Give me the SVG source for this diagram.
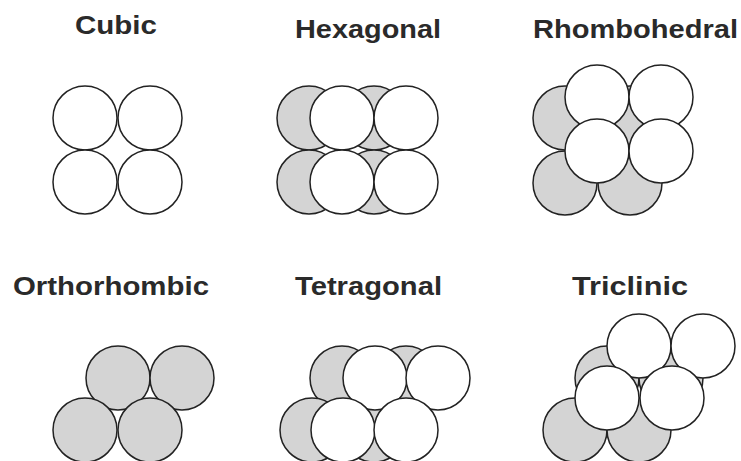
<svg xmlns="http://www.w3.org/2000/svg" width="741" height="461" viewBox="0 0 741 461">
<style>
.t{font-family:"Liberation Sans",Arial,sans-serif;font-weight:bold;font-size:26px;fill:#2a2a2a}
.w{fill:#ffffff;stroke:#222222;stroke-width:1.5}
.g{fill:#d4d4d4;stroke:#222222;stroke-width:1.5}
</style>
<rect width="741" height="461" fill="#ffffff"/>
<g id="cubic">
<text class="t" x="75" y="34" textLength="82" lengthAdjust="spacingAndGlyphs">Cubic</text>
<circle class="w" cx="85" cy="118" r="32"/>
<circle class="w" cx="150" cy="118" r="32"/>
<circle class="w" cx="85" cy="182" r="32"/>
<circle class="w" cx="150" cy="182" r="32"/>
</g>
<g id="hexagonal">
<text class="t" x="295" y="38" textLength="146" lengthAdjust="spacingAndGlyphs">Hexagonal</text>
<circle class="g" cx="309" cy="118" r="32"/>
<circle class="g" cx="374" cy="118" r="32"/>
<circle class="g" cx="309" cy="182" r="32"/>
<circle class="g" cx="374" cy="182" r="32"/>
<circle class="w" cx="342" cy="118" r="32"/>
<circle class="w" cx="406" cy="118" r="32"/>
<circle class="w" cx="342" cy="182" r="32"/>
<circle class="w" cx="406" cy="182" r="32"/>
</g>
<g id="rhombohedral">
<text class="t" x="533" y="38" textLength="205" lengthAdjust="spacingAndGlyphs">Rhombohedral</text>
<circle class="g" cx="565" cy="118" r="32"/>
<circle class="g" cx="630" cy="118" r="32"/>
<circle class="g" cx="565" cy="183" r="32"/>
<circle class="g" cx="630" cy="183" r="32"/>
<circle class="w" cx="597" cy="97" r="32"/>
<circle class="w" cx="661" cy="97" r="32"/>
<circle class="w" cx="597" cy="151" r="32"/>
<circle class="w" cx="661" cy="151" r="32"/>
</g>
<g id="orthorhombic">
<text class="t" x="13" y="295" textLength="196" lengthAdjust="spacingAndGlyphs">Orthorhombic</text>
<circle class="g" cx="118" cy="378" r="32"/>
<circle class="g" cx="182" cy="378" r="32"/>
<circle class="g" cx="85" cy="430" r="32"/>
<circle class="g" cx="150" cy="430" r="32"/>
</g>
<g id="tetragonal">
<text class="t" x="295" y="295" textLength="147" lengthAdjust="spacingAndGlyphs">Tetragonal</text>
<circle class="g" cx="342" cy="378" r="32"/>
<circle class="g" cx="406" cy="378" r="32"/>
<circle class="g" cx="312" cy="430" r="32"/>
<circle class="g" cx="374" cy="430" r="32"/>
<circle class="w" cx="375" cy="378" r="32"/>
<circle class="w" cx="438" cy="378" r="32"/>
<circle class="w" cx="343" cy="430" r="32"/>
<circle class="w" cx="406" cy="430" r="32"/>
</g>
<g id="triclinic">
<text class="t" x="572" y="295" textLength="116" lengthAdjust="spacingAndGlyphs">Triclinic</text>
<circle class="g" cx="607" cy="378" r="32"/>
<circle class="g" cx="671" cy="378" r="32"/>
<circle class="g" cx="575" cy="430" r="32"/>
<circle class="g" cx="639" cy="430" r="32"/>
<circle class="w" cx="639" cy="346" r="32"/>
<circle class="w" cx="703" cy="346" r="32"/>
<circle class="w" cx="607" cy="398" r="32"/>
<circle class="w" cx="672" cy="398" r="32"/>
</g>
<g id="connectors"/>
</svg>
